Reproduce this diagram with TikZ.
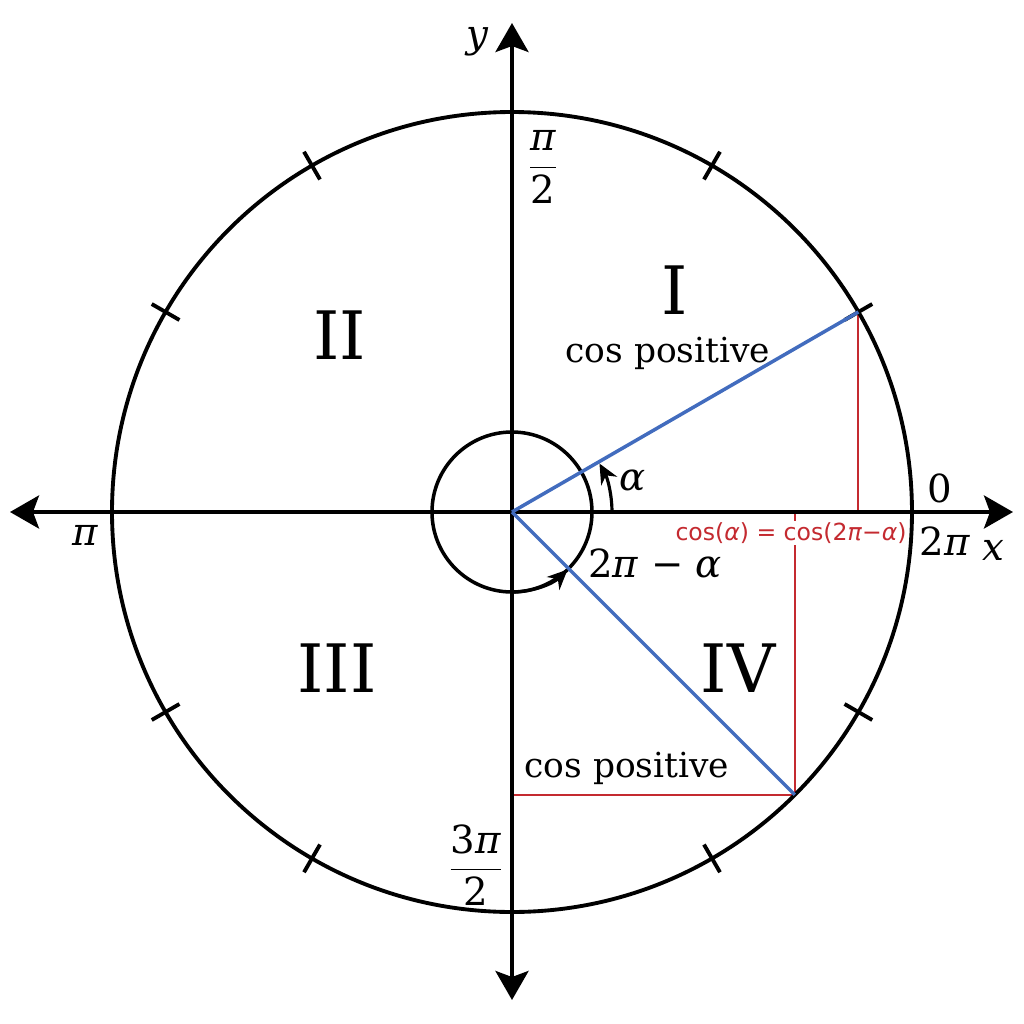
\documentclass[tikz,border=0pt]{standalone}
\usepackage{fontspec}
\setmainfont{DejaVu Serif}
\newfontfamily\redfont{DejaVu Sans}
\usetikzlibrary{arrows.meta}
\definecolor{angleblue}{RGB}{66,108,190}
\definecolor{cosred}{RGB}{196,42,48}
\newcommand{\piover}[2]{$\displaystyle\frac{\hbox{#1}}{\hbox{#2}}$}

\begin{document}
\begin{tikzpicture}[
	axisline/.style={line width=1.1pt, {Stealth[length=2.9mm,width=3.3mm,inset=0.6mm]}-{Stealth[length=2.9mm,width=3.3mm,inset=0.6mm]}},
	ray/.style={line width=1pt, angleblue},
	proj/.style={line width=0.6pt, cosred},
	quadrant/.style={font=\fontsize{19}{22}\selectfont},
	lbl/.style={font=\fontsize{11}{13}\selectfont, inner sep=1pt},
	note/.style={font=\fontsize{9.8}{12}\selectfont, anchor=base}
	]
\useasboundingbox (-5.12,-5.12) rectangle (5.12,5.12);

\coordinate (O) at (0,0);
\coordinate (P) at (30:4);
\coordinate (Q) at (-45:4);
\coordinate (xl) at (-5.02,0);
\coordinate (xr) at (5.01,0);
\coordinate (yb) at (0,-4.88);
\coordinate (yt) at (0,4.89);

% cosine projections
\draw[proj] (O) -- (P |- O) -- (P);
\draw[proj] (Q |- O) -- (Q) -- (Q -| O);
\node[fill=white, inner sep=0.5pt, text=cosred, font=\redfont\fontsize{6.7}{8}\selectfont]
	(eq) at (2.79,-0.21) {cos(\textit{α}) = cos(2\textit{π}−\textit{α})};

% circles and axes
\draw[line width=1.1pt] (O) circle (4);
\draw[line width=1pt] (O) circle (0.8);
\draw[axisline] (xl) -- (xr);
\draw[axisline] (yb) -- (yt);
\foreach \a in {30,60,120,150,210,240,300,330}
	\draw[line width=1.1pt] (\a:3.84) -- (\a:4.16);

% angle rays
\draw[ray] (O) -- (P);
\draw[ray] (O) -- (Q);
\draw[line width=0.9pt, -{Stealth[length=2mm,width=1.8mm]}] (1,0) arc (0:29:1);
\draw[line width=0.9pt, -{Stealth[length=2mm,width=1.8mm]}] (-90:0.8) arc (-90:-46:0.8);

% labels
\node[quadrant] (q1) at (1.63,2.22) {I};
\node[quadrant] (q2) at (-1.72,1.77) {II};
\node[quadrant] (q3) at (-1.75,-1.56) {III};
\node[quadrant] (q4) at (2.26,-1.56) {IV};
\node[note] (pos1) at (1.56,1.50) {cos positive};
\node[note] (pos4) at (1.15,-2.65) {cos positive};

\node[lbl] (alpha) at (1.21,0.32) {\textit{α}};
\node[lbl, anchor=base] (beta) at (1.43,-0.65) {2\textit{π} − \textit{α}};
\node[lbl] (half) at (0.31,3.45) {\piover{\textit{π}}{2}};
\node[lbl] (threehalf) at (-0.36,-3.53) {\piover{3\textit{π}}{2}};
\node[lbl] (pi) at (-4.27,-0.23) {\textit{π}};
\node[lbl] (zero) at (4.28,0.24) {0};
\node[lbl] (twopi) at (4.33,-0.29) {2\textit{π}};
\node[lbl] (xlab) at (4.81,-0.38) {\textit{x}};
\node[lbl] (ylab) at (-0.34,4.70) {\textit{y}};
\end{tikzpicture}
\end{document}
